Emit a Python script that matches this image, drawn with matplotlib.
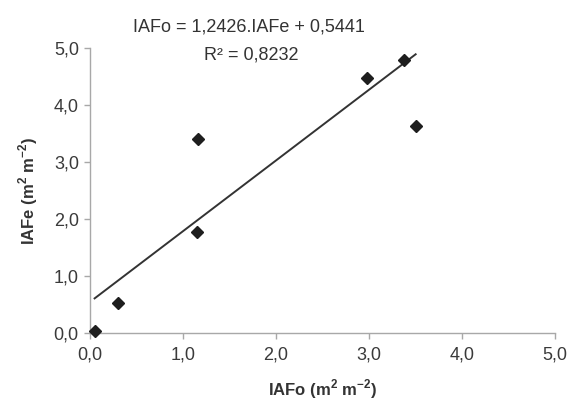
import numpy as np
import matplotlib.pyplot as plt

plt.rcParams['font.family'] = ['Liberation Sans', 'DejaVu Sans']
plt.rcParams['mathtext.fontset'] = 'custom'
plt.rcParams['mathtext.rm'] = 'Liberation Sans:bold'

# observed vs estimated leaf area index
iafo = [0.05, 0.30, 1.15, 1.16, 2.98, 3.37, 3.50]
iafe = [0.04, 0.53, 1.77, 3.40, 4.47, 4.80, 3.64]

slope = 1.2426
intercept = 0.5441
r2 = 0.8232

x_ticks = [0, 1, 2, 3, 4, 5]
y_ticks = [0, 1, 2, 3, 4, 5]


def fmt(v, n=1):
    return f"{v:.{n}f}".replace(".", ",")


fig = plt.figure(figsize=(5.73, 4.05), dpi=100)
ax = fig.add_axes([0.157, 0.178, 0.812, 0.703])

xl = np.array([min(iafo), max(iafo)])
ax.plot(xl, slope * xl + intercept, color="#333333", lw=1.4, zorder=2)
ax.plot(iafo, iafe, "D", color="#1e1e1e", ms=6, zorder=3, clip_on=False)

ax.set_xlim(0, 5)
ax.set_ylim(0, 5)
ax.set_xticks(x_ticks)
ax.set_yticks(y_ticks)
ax.set_xticklabels([fmt(v) for v in x_ticks])
ax.set_yticklabels([fmt(v) for v in y_ticks])

for s in ["top", "right"]:
    ax.spines[s].set_visible(False)
for s in ["left", "bottom"]:
    ax.spines[s].set_color("#a8a8a8")
    ax.spines[s].set_linewidth(1.0)

ax.tick_params(axis="both", direction="out", length=4, width=1.0,
               color="#a8a8a8", labelsize=13, labelcolor="#3a3a3a")
ax.tick_params(axis="x", pad=6)
ax.tick_params(axis="y", pad=4)

ax.set_xlabel(r"IAFo (m$^{2}$ m$^{-2}$)", fontsize=12, fontweight="bold",
              color="#333333", labelpad=10)
ax.set_ylabel(r"IAFe (m$^{2}$ m$^{-2}$)", fontsize=12, fontweight="bold",
              color="#333333", labelpad=10)

fig.text(0.435, 0.933, f"IAFo = {fmt(slope, 4)}.IAFe + {fmt(intercept, 4)}",
         ha="center", va="center", fontsize=13, color="#333333")
fig.text(0.438, 0.865, f"R\u00b2 = {fmt(r2, 4)}",
         ha="center", va="center", fontsize=13, color="#333333")

fig.savefig("out.png", dpi=100, facecolor="white")
